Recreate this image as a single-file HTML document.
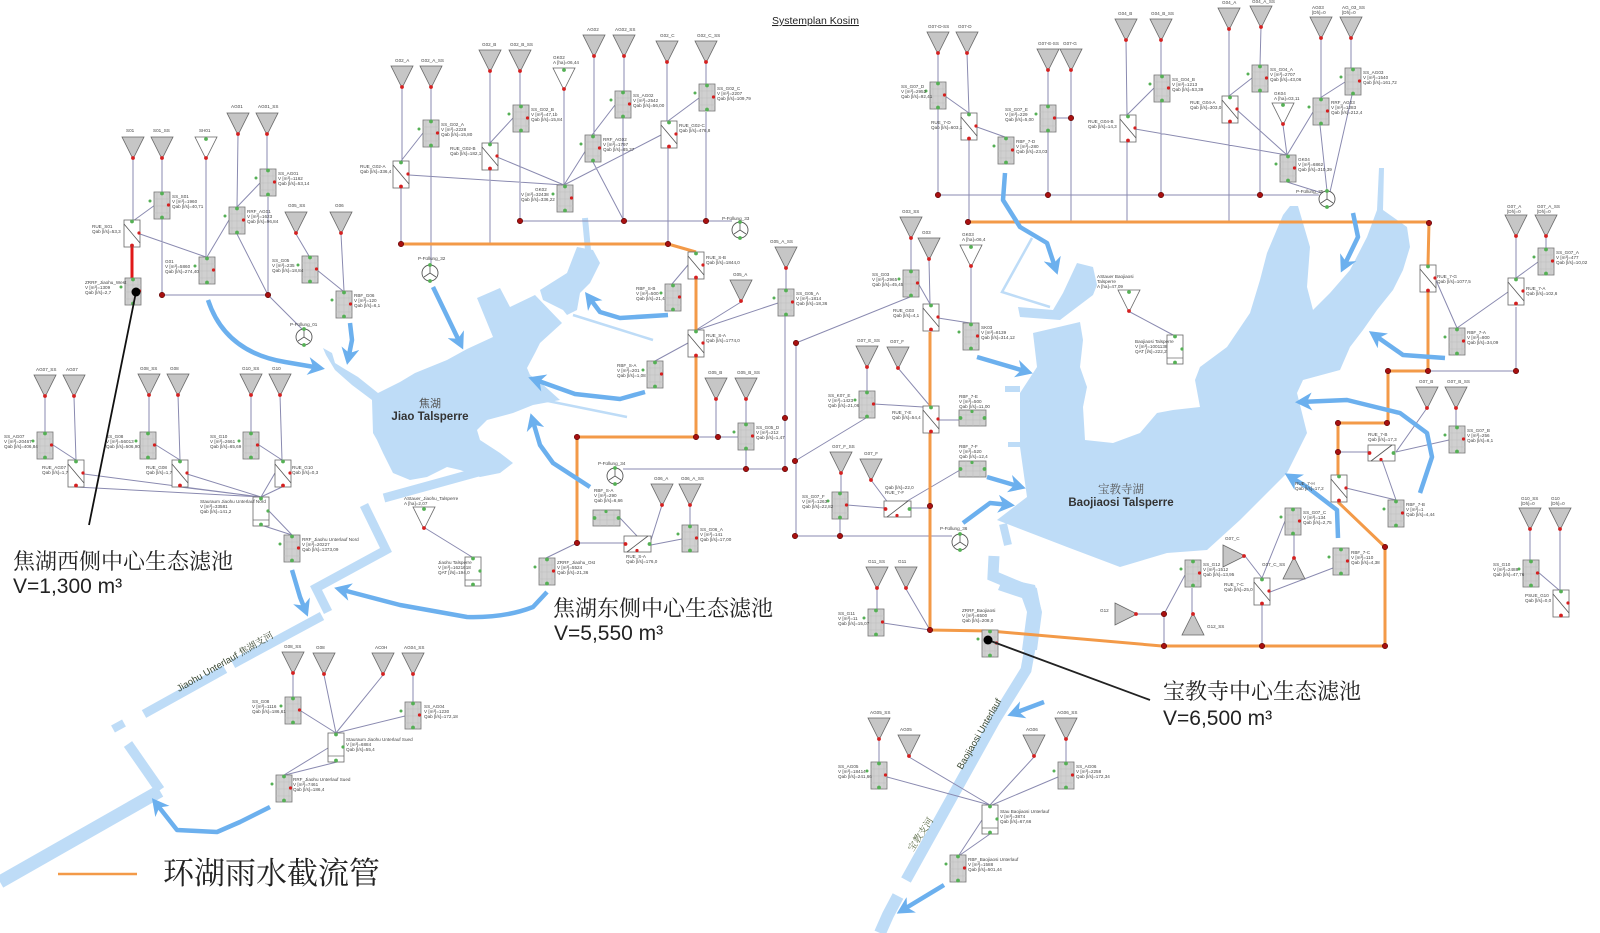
<!DOCTYPE html>
<html><head><meta charset="utf-8"><style>
html,body{margin:0;padding:0;background:#fff;}
svg{display:block;}
.s{font-family:"Liberation Sans",sans-serif;font-size:4.6px;fill:#444;}
.cn{font-family:"Liberation Serif","Noto Serif CJK SC",serif;fill:#222;}
.v{font-family:"Liberation Sans",sans-serif;fill:#222;}
</style></head><body>
<svg width="1600" height="933" viewBox="0 0 1600 933" xmlns="http://www.w3.org/2000/svg">
<defs>
<g id="t"><path d="M0,0H22L11,22Z" fill="#c6c6c6" stroke="#666" stroke-width=".8"/><circle cx="11" cy="21" r="1.9" fill="#d42020"/></g>
<g id="wt"><path d="M0,0H22L11,22Z" fill="#fff" stroke="#666" stroke-width=".8"/><circle cx="11" cy="2" r="1.9" fill="#55b055"/><circle cx="11" cy="21" r="1.9" fill="#d42020"/></g>
<g id="tr"><path d="M0,0L22,11L0,22Z" fill="#c6c6c6" stroke="#666" stroke-width=".8"/><circle cx="21" cy="11" r="1.9" fill="#d42020"/></g>
<g id="tu"><path d="M0,22H22L11,0Z" fill="#c6c6c6" stroke="#666" stroke-width=".8"/><circle cx="11" cy="1" r="1.9" fill="#d42020"/></g>
<g id="b"><rect width="16" height="27" fill="#d0d0d0" stroke="#777" stroke-width=".8"/><path d="M3,0V27M8,0V27M13,0V27M0,7H16M0,14H16M0,21H16" stroke="#bdbdbd" stroke-width=".5"/><circle cx="8" cy="1.5" r="1.9" fill="#55b055"/><circle cx="8" cy="25.5" r="1.9" fill="#55b055"/><circle cx="14.5" cy="13" r="1.6" fill="#d42020"/><circle cx="-4" cy="9" r="1.5" fill="#55b055"/></g>
<g id="r"><rect width="16" height="27" fill="#fff" stroke="#666" stroke-width=".8"/><path d="M0,4L16,23" stroke="#555" stroke-width=".8"/><circle cx="8" cy="1.5" r="1.9" fill="#55b055"/><circle cx="8" cy="25.5" r="1.9" fill="#d42020"/><circle cx="15" cy="13" r="1.6" fill="#d42020"/></g>
<g id="hb"><rect width="27" height="16" fill="#d0d0d0" stroke="#777" stroke-width=".8"/><path d="M0,5H27M0,10H27M7,0V16M14,0V16M21,0V16" stroke="#bdbdbd" stroke-width=".5"/><circle cx="1.5" cy="8" r="1.9" fill="#55b055"/><circle cx="25.5" cy="8" r="1.9" fill="#55b055"/><circle cx="13" cy="1.5" r="1.6" fill="#55b055"/></g>
<g id="hr"><rect width="27" height="16" fill="#fff" stroke="#666" stroke-width=".8"/><path d="M3,16L24,0" stroke="#555" stroke-width=".8"/><circle cx="1.5" cy="8" r="1.9" fill="#d42020"/><circle cx="25.5" cy="8" r="1.9" fill="#55b055"/><circle cx="13" cy="14.5" r="1.6" fill="#d42020"/></g>
<g id="wb"><rect width="16" height="29" fill="#fff" stroke="#666" stroke-width=".8"/><path d="M0,23H16" stroke="#666" stroke-width=".7"/><circle cx="8" cy="1.5" r="1.9" fill="#55b055"/><circle cx="8" cy="27.5" r="1.9" fill="#55b055"/><circle cx="15" cy="14" r="1.6" fill="#55b055"/></g>
<g id="p"><circle r="8" fill="#fff" stroke="#555" stroke-width=".9"/><path d="M0,0V-7M0,0L6,4M0,0L-6,4" stroke="#555" stroke-width=".8"/><circle cy="-8" r="1.9" fill="#55b055"/><circle cy="8" r="1.9" fill="#55b055"/></g>
<g id="n"><circle r="2.7" fill="#a81010" stroke="#500" stroke-width=".6"/></g>
<marker id="ah" markerUnits="userSpaceOnUse" markerWidth="20" markerHeight="18" refX="12" refY="9" orient="auto"><path d="M0,0L17,9L0,18L5,9Z" fill="#6cb0ee"/></marker>
</defs>

<!-- ===== water bodies ===== -->
<g fill="#bedcf7" stroke="none">
<path d="M323,348L332,353L335,363L343,368L358,377L378,393L400,382L415,373L447,360L467,349L493,337L477,298L500,288L510,307L535,295L562,323L540,343L535,353L527,368L530,375L540,382L560,400L533,405L513,413L487,420L477,430L480,440L500,453L513,463L500,473L480,477L460,470L447,467L427,477L410,480L393,473L383,453L377,440L373,433L372,400L352,385L335,370L326,355Z"/>
<path d="M577,247L593,250L600,263L590,283L580,293L577,310L567,315L563,310L543,300L540,290L567,273Z"/>
<path d="M1033,333L1080,322L1083,340L1080,367L1087,387L1083,407L1085,440L1113,443L1140,433L1157,413L1173,410L1200,407L1195,380L1200,367L1227,347L1250,313L1260,280L1267,253L1283,215L1290,206L1298,206L1310,247L1307,287L1313,310L1330,293L1350,270L1367,237L1377,210L1379,168L1384,168L1383,210L1407,227L1410,247L1403,270L1393,290L1377,310L1363,330L1350,347L1340,370L1303,380L1297,393L1307,433L1287,473L1240,520L1207,550L1167,553L1120,567L1067,547L997,520L1027,497L1020,447L1020,393L1037,367Z"/>
<path d="M1053,310L1063,293L1077,263L1093,267L1097,285L1093,295L1060,320L1020,317L1018,307Z"/>
<path d="M1003,578L1035,585L1042,612L1037,650L1022,650L1027,612L1022,598L998,590Z"/>
<rect x="1005" y="386" width="15" height="6"/><rect x="1008" y="442" width="16" height="5"/>
</g>
<g fill="none" stroke="#bedcf7" stroke-linecap="butt">
<path d="M585,218L588,250" stroke-width="6"/>
<path d="M573,315L653,340" stroke-width="2.5"/>
<path d="M533,398L627,417" stroke-width="2.5"/>
<path d="M1032,238L1002,292L1050,307" stroke-width="2.5"/>
<path d="M500,466L384,498" stroke-width="9"/>
<path d="M364,505L386,550L316,588L328,612" stroke-width="9"/>
<path d="M322,616L233,664" stroke-width="9"/>
<path d="M225,669L144,714" stroke-width="9"/>
<path d="M113,729L124,723" stroke-width="8"/>
<path d="M128,744L160,790" stroke-width="10"/>
<path d="M160,791L0,882" stroke-width="13"/>
<path d="M1003,524L1008,545" stroke-width="8"/>
<path d="M994,556L993,576L1012,584L1032,592L1036,612L1030,648L1026,670L995,720L906,880" stroke-width="11"/>
<path d="M898,896L888,915L880,933" stroke-width="12"/>
</g>

<!-- ===== gray connectors ===== -->
<path fill="none" stroke="#8a8ab0" stroke-width="1" d="
M133,159V220 M162,159V192 M206,158V257 M238,135L237,207 M267,135V169 M268,197V295 M162,218V295 M162,295H268 M155,205L133,221 M140,234L206,257 M229,220L207,257 M260,183L237,207 M237,234L268,295 M268,295L302,329 M296,234L309,256 M317,270L343,291 M341,234L344,291
M402,88V161 M401,188V244 M431,88V120 M431,147V265 M423,133L401,161 M409,175L564,185 M490,72V143 M490,170V244 M520,72V105 M520,132V221 M513,118L490,143 M497,157L564,185 M564,89V185 M594,57V135 M624,57V91 M623,118V221 M615,105L592,135 M586,150L564,185 M593,162L624,221 M661,135L564,185 M667,63V121 M668,148V244 M706,63V84 M706,112V221 M699,98L668,121 M520,221H732
M688,265L672,284 M688,343L655,361 M741,302L696,330 M778,303L697,330 M786,268V289 M785,316V470 M716,400V437 M746,400V423 M746,450V469 M696,437H738 M623,469H785 M662,505L651,540 M690,505V525 M682,539L651,545 M620,518L637,536 M577,543H624 M577,543L546,558
M910,297L796,343 M796,343V536 M866,418L795,461
M911,238V270 M918,283L930,304 M929,260L930,304 M938,318L970,323 M971,267V323 M867,368V391 M898,368L930,406 M874,404L923,407 M938,420H959 M841,474V492 M871,480L889,504 M847,505L884,508 M911,508H930 M897,507L960,470 M840,519V536 M795,536H952 M877,589V609 M906,589L930,630 M883,623L930,630
M938,53V82 M938,109V195 M967,53L969,113 M969,140V222 M945,96L969,113 M977,127L1005,137 M1048,70V105 M1048,132V195 M1071,70V222 M1055,118H1071 M1126,41L1127,115 M1127,142V222 M1161,41V75 M1161,102V195 M1154,88L1127,115 M1135,129L1287,155 M1229,29V96 M1229,123V222 M1261,27L1260,65 M1260,92V195 M1252,78L1229,96 M1237,110L1287,155 M1283,125L1287,155 M1313,112L1287,155 M1321,38V98 M1320,125L1327,191 M1351,38V68 M1345,82L1320,98 M1352,95L1330,192 M1287,182L1322,193 M938,195H1319
M1516,237V278 M1546,237V248 M1538,262L1516,278 M1508,292L1457,328 M1435,278L1457,328 M1516,307V371 M1428,371H1516 M1427,408L1396,452 M1456,408V426 M1449,440L1396,452 M1368,452H1338 M1382,460L1396,500 M1346,488L1396,500 M1530,530V560 M1560,530V590 M1538,572L1559,590
M1137,614H1164 M1164,614L1185,575 M1192,588V613 M1164,614V646 M1245,556L1262,578 M1285,521L1262,578 M1294,557V535 M1270,592L1333,568 M1262,605V646
M293,673V697 M324,675L336,733 M383,675L336,733 M413,675V702 M301,711L336,733 M405,716L336,733 M328,748L284,775 M337,762L285,775
M45,397V432 M74,397L76,460 M149,395V432 M178,395L180,460 M251,395V432 M280,395L282,460 M53,445L76,460 M156,445L180,460 M259,445L282,460 M84,474L261,497 M76,487L261,497 M187,474L261,497 M180,487L261,497 M275,473L261,497 M282,487L261,497 M269,511L292,535 M261,525L292,535
M425,528L472,557 M1130,312L1175,336
M879,740V762 M909,757L990,805 M1034,757L990,805 M1066,740V762 M887,777L990,805 M1058,777L992,805 M982,820L959,855 M990,834L960,855
"/>

<!-- ===== orange interceptor pipe ===== -->
<path fill="none" stroke="#f39a48" stroke-width="3" stroke-linejoin="round" d="
M401,244H668L696,252 M696,279V437 M577,437H696 M577,437V543
M968,222H1429L1428,265 M1428,292V371 M1388,371H1428 M1388,371V423 M1338,423H1387 M1338,423V475 M1338,502L1385,547V646 M1385,646H1162L990,631L930,630 M930,332V630"/>
<path d="M132,247V279" stroke="#e01818" stroke-width="3"/>

<!-- ===== blue arrows ===== -->
<g fill="none" stroke="#6cb0ee" stroke-width="4.5" stroke-linejoin="round" marker-end="url(#ah)">
<path d="M208,300Q225,352 285,362L320,368"/>
<path d="M350,323L352,340L348,360"/>
<path d="M433,287L448,318L461,345"/>
<path d="M668,315L620,318L600,312L588,296"/>
<path d="M645,392L620,399L575,394L533,379"/>
<path d="M590,487L553,463L540,445L532,418"/>
<path d="M547,592L533,607Q505,618 467,617L400,605L339,589"/>
<path d="M292,570L300,597L306,612"/>
<path d="M270,807L240,822L217,832L177,830L155,802"/>
<path d="M1005,173L1003,200L1020,227L1047,243L1056,270"/>
<path d="M1353,213L1358,237L1343,268"/>
<path d="M1445,358L1403,355L1373,334"/>
<path d="M1420,493L1432,457L1427,433L1400,413L1347,400L1300,402"/>
<path d="M1338,538L1337,510L1307,487L1289,476"/>
<path d="M977,357L1028,372"/>
<path d="M987,477L1021,487"/>
<path d="M963,523L990,503L1010,505"/>
<path d="M1044,702L1012,714"/>
<path d="M944,885L901,911"/>
</g>

<!-- ===== elements ===== -->
<g>
<use href="#t" x="122" y="137"/><use href="#t" x="151" y="137"/><use href="#t" x="227" y="113"/><use href="#t" x="256" y="113"/><use href="#t" x="285" y="212"/><use href="#t" x="330" y="212"/>
<use href="#t" x="391" y="66"/><use href="#t" x="420" y="66"/><use href="#t" x="479" y="50"/><use href="#t" x="509" y="50"/><use href="#t" x="583" y="35"/><use href="#t" x="613" y="35"/><use href="#t" x="656" y="41"/><use href="#t" x="695" y="41"/>
<use href="#t" x="730" y="280"/><use href="#t" x="705" y="378"/><use href="#t" x="735" y="378"/><use href="#t" x="651" y="484"/><use href="#t" x="679" y="484"/><use href="#t" x="775" y="247"/>
<use href="#t" x="900" y="217"/><use href="#t" x="918" y="238"/><use href="#t" x="856" y="346"/><use href="#t" x="887" y="347"/><use href="#t" x="830" y="452"/><use href="#t" x="860" y="459"/><use href="#t" x="866" y="567"/><use href="#t" x="895" y="567"/>
<use href="#t" x="927" y="32"/><use href="#t" x="956" y="32"/><use href="#t" x="1037" y="49"/><use href="#t" x="1060" y="49"/><use href="#t" x="1115" y="19"/><use href="#t" x="1150" y="19"/><use href="#t" x="1218" y="8"/><use href="#t" x="1250" y="6"/><use href="#t" x="1310" y="17"/><use href="#t" x="1340" y="17"/>
<use href="#t" x="1505" y="215"/><use href="#t" x="1535" y="215"/><use href="#t" x="1416" y="387"/><use href="#t" x="1445" y="387"/><use href="#t" x="1519" y="508"/><use href="#t" x="1549" y="508"/>
<use href="#t" x="282" y="652"/><use href="#t" x="313" y="653"/><use href="#t" x="372" y="653"/><use href="#t" x="402" y="653"/>
<use href="#t" x="34" y="375"/><use href="#t" x="63" y="375"/><use href="#t" x="138" y="374"/><use href="#t" x="167" y="374"/><use href="#t" x="240" y="374"/><use href="#t" x="269" y="374"/>
<use href="#t" x="868" y="718"/><use href="#t" x="898" y="735"/><use href="#t" x="1023" y="735"/><use href="#t" x="1055" y="718"/>
<use href="#wt" x="195" y="137"/><use href="#wt" x="553" y="68"/><use href="#wt" x="960" y="245"/><use href="#wt" x="1272" y="103"/><use href="#wt" x="413" y="507"/><use href="#wt" x="1118" y="290"/>
<use href="#tr" x="1115" y="603"/><use href="#tr" x="1223" y="545"/><use href="#tu" x="1182" y="613"/><use href="#tu" x="1283" y="557"/>

<use href="#b" x="154" y="192"/><use href="#b" x="229" y="207"/><use href="#b" x="260" y="169"/><use href="#b" x="199" y="257"/><use href="#b" x="302" y="256"/><use href="#b" x="336" y="291"/><use href="#b" x="125" y="278"/>
<use href="#b" x="423" y="120"/><use href="#b" x="513" y="105"/><use href="#b" x="615" y="91"/><use href="#b" x="585" y="135"/><use href="#b" x="699" y="84"/><use href="#b" x="557" y="185"/>
<use href="#b" x="665" y="284"/><use href="#b" x="647" y="361"/><use href="#b" x="778" y="289"/><use href="#b" x="738" y="423"/><use href="#b" x="682" y="525"/><use href="#b" x="539" y="558"/>
<use href="#b" x="903" y="270"/><use href="#b" x="963" y="323"/><use href="#b" x="859" y="391"/><use href="#b" x="832" y="492"/><use href="#b" x="868" y="609"/>
<use href="#b" x="930" y="82"/><use href="#b" x="1040" y="105"/><use href="#b" x="998" y="137"/><use href="#b" x="1154" y="75"/><use href="#b" x="1252" y="65"/><use href="#b" x="1313" y="98"/><use href="#b" x="1345" y="68"/><use href="#b" x="1280" y="155"/>
<use href="#b" x="1538" y="248"/><use href="#b" x="1449" y="328"/><use href="#b" x="1449" y="426"/><use href="#b" x="1388" y="500"/><use href="#b" x="1523" y="560"/>
<use href="#b" x="1185" y="560"/><use href="#b" x="1285" y="508"/><use href="#b" x="1333" y="548"/>
<use href="#b" x="285" y="697"/><use href="#b" x="405" y="702"/><use href="#b" x="276" y="775"/>
<use href="#b" x="37" y="432"/><use href="#b" x="140" y="432"/><use href="#b" x="243" y="432"/><use href="#b" x="284" y="535"/>
<use href="#b" x="871" y="762"/><use href="#b" x="1058" y="762"/><use href="#b" x="950" y="855"/><use href="#b" x="982" y="630"/>

<use href="#r" x="124" y="220"/><use href="#r" x="393" y="161"/><use href="#r" x="482" y="143"/><use href="#r" x="661" y="121"/><use href="#r" x="688" y="252"/><use href="#r" x="688" y="330"/>
<use href="#r" x="923" y="304"/><use href="#r" x="923" y="406"/><use href="#r" x="961" y="113"/><use href="#r" x="1120" y="115"/><use href="#r" x="1222" y="96"/>
<use href="#r" x="1508" y="278"/><use href="#r" x="1420" y="265"/><use href="#r" x="1331" y="475"/><use href="#r" x="1553" y="590"/><use href="#r" x="1254" y="578"/>
<use href="#r" x="68" y="460"/><use href="#r" x="172" y="460"/><use href="#r" x="275" y="460"/>
<use href="#hb" x="593" y="510"/><use href="#hb" x="959" y="410"/><use href="#hb" x="959" y="461"/>
<use href="#hr" x="624" y="536"/><use href="#hr" x="884" y="501"/><use href="#hr" x="1368" y="445"/>
<use href="#wb" x="328" y="733"/><use href="#wb" x="253" y="497"/><use href="#wb" x="982" y="805"/><use href="#wb" x="465" y="557"/><use href="#wb" x="1167" y="335"/>
<use href="#p" x="304" y="337"/><use href="#p" x="430" y="273"/><use href="#p" x="740" y="230"/><use href="#p" x="615" y="476"/><use href="#p" x="1327" y="199"/><use href="#p" x="960" y="542"/>

<use href="#n" x="162" y="295"/><use href="#n" x="268" y="295"/><use href="#n" x="520" y="221"/><use href="#n" x="624" y="221"/><use href="#n" x="706" y="221"/><use href="#n" x="401" y="244"/><use href="#n" x="668" y="244"/>
<use href="#n" x="696" y="437"/><use href="#n" x="718" y="437"/><use href="#n" x="577" y="437"/><use href="#n" x="577" y="543"/><use href="#n" x="746" y="469"/><use href="#n" x="785" y="469"/><use href="#n" x="785" y="418"/>
<use href="#n" x="796" y="343"/><use href="#n" x="795" y="461"/><use href="#n" x="795" y="536"/><use href="#n" x="840" y="536"/><use href="#n" x="930" y="506"/><use href="#n" x="930" y="630"/>
<use href="#n" x="938" y="195"/><use href="#n" x="1048" y="195"/><use href="#n" x="1161" y="195"/><use href="#n" x="1260" y="195"/><use href="#n" x="968" y="222"/><use href="#n" x="1429" y="223"/>
<use href="#n" x="1428" y="371"/><use href="#n" x="1388" y="371"/><use href="#n" x="1516" y="371"/><use href="#n" x="1387" y="423"/><use href="#n" x="1338" y="423"/><use href="#n" x="1338" y="452"/>
<use href="#n" x="1385" y="547"/><use href="#n" x="1385" y="646"/><use href="#n" x="1262" y="646"/><use href="#n" x="1164" y="646"/><use href="#n" x="1164" y="614"/><use href="#n" x="1071" y="118"/>
</g>

<!-- ===== small labels ===== -->
<g class="s">
<text x="126" y="132">S01</text><text x="153" y="132">S01_SS</text><text x="199" y="132">SH01</text><text x="231" y="108">AG01</text><text x="258" y="108">AG01_SS</text><text x="288" y="207">G05_SS</text><text x="335" y="207">G06</text>
<text x="172" y="198">SS_S01<tspan x="172" dy="5">V [m³]=1960</tspan><tspan x="172" dy="5">Qab [l/s]=40,71</tspan></text>
<text x="247" y="213">RRF_AG01<tspan x="247" dy="5">V [m³]=1623</tspan><tspan x="247" dy="5">Qab [l/s]=96,84</tspan></text>
<text x="278" y="175">SS_AG01<tspan x="278" dy="5">V [m³]=1162</tspan><tspan x="278" dy="5">Qab [l/s]=53,14</tspan></text>
<text x="165" y="263">G01<tspan x="165" dy="5">V [m³]=5860</tspan><tspan x="165" dy="5">Qab [l/s]=274,40</tspan></text>
<text x="272" y="262">SS_G05<tspan x="272" dy="5">V [m³]=235</tspan><tspan x="272" dy="5">Qab [l/s]=18,84</tspan></text>
<text x="354" y="297">RBF_G06<tspan x="354" dy="5">V [m³]=120</tspan><tspan x="354" dy="5">Qab [l/s]=6,1</tspan></text>
<text x="92" y="228">RUE_S01<tspan x="92" dy="5">Qab [l/s]=53,3</tspan></text>
<text x="85" y="284">ZRRF_Jiaohu_West<tspan x="85" dy="5">V [m³]=1309</tspan><tspan x="85" dy="5">Qab [l/s]=2,7</tspan></text>
<text x="290" y="326">P-Füllung_01</text>
<text x="395" y="62">G02_A</text><text x="421" y="62">G02_A_SS</text><text x="482" y="46">G02_B</text><text x="510" y="46">G02_B_SS</text><text x="553" y="59">GK02<tspan x="553" dy="5">A [ha]=06,44</tspan></text><text x="587" y="31">AG02</text><text x="615" y="31">AG02_SS</text><text x="660" y="37">G02_C</text><text x="697" y="37">G02_C_SS</text>
<text x="441" y="126">SS_G02_A<tspan x="441" dy="5">V [m³]=2228</tspan><tspan x="441" dy="5">Qab [l/s]=15,80</tspan></text>
<text x="531" y="111">SS_G02_B<tspan x="531" dy="5">V [m³]=47,1b</tspan><tspan x="531" dy="5">Qab [l/s]=15,84</tspan></text>
<text x="633" y="97">SS_AG02<tspan x="633" dy="5">V [m³]=2542</tspan><tspan x="633" dy="5">Qab [l/s]=56,00</tspan></text>
<text x="603" y="141">RRF_AG02<tspan x="603" dy="5">V [m³]=1797</tspan><tspan x="603" dy="5">Qab [l/s]=85,37</tspan></text>
<text x="717" y="90">SS_G02_C<tspan x="717" dy="5">V [m³]=2207</tspan><tspan x="717" dy="5">Qab [l/s]=109,79</tspan></text>
<text x="535" y="191">GK02<tspan x="521" dy="5">V [m³]=32438</tspan><tspan x="521" dy="5">Qab [l/s]=336,22</tspan></text>
<text x="360" y="168">RUE_G02-A<tspan x="360" dy="5">Qab [l/s]=336,4</tspan></text>
<text x="450" y="150">RUE_G02-B<tspan x="450" dy="5">Qab [l/s]=182,1</tspan></text>
<text x="679" y="127">RUE_G02-C<tspan x="679" dy="5">Qab [l/s]=476,8</tspan></text>
<text x="706" y="259">RUE_S-B<tspan x="706" dy="5">Qab [l/s]=1844,0</tspan></text>
<text x="706" y="337">RUE_S-A<tspan x="706" dy="5">Qab [l/s]=1774,0</tspan></text>
<text x="636" y="290">RBF_S-B<tspan x="636" dy="5">V [m³]=500</tspan><tspan x="636" dy="5">Qab [l/s]=21,4</tspan></text>
<text x="617" y="367">RBF_S-A<tspan x="617" dy="5">V [m³]=201</tspan><tspan x="617" dy="5">Qab [l/s]=1,08</tspan></text>
<text x="722" y="220">P-Füllung_33</text><text x="418" y="260">P-Füllung_32</text><text x="598" y="465">P-Füllung_34</text>
<text x="733" y="276">G05_A</text><text x="708" y="374">G05_B</text><text x="737" y="374">G05_B_SS</text><text x="654" y="480">G06_A</text><text x="681" y="480">G06_A_SS</text><text x="770" y="243">G05_A_SS</text>
<text x="756" y="429">SS_G05_D<tspan x="756" dy="5">V [m³]=212</tspan><tspan x="756" dy="5">Qab [l/s]=1,47</tspan></text>
<text x="796" y="295">SS_G05_A<tspan x="796" dy="5">V [m³]=1814</tspan><tspan x="796" dy="5">Qab [l/s]=18,36</tspan></text>
<text x="700" y="531">SS_G06_A<tspan x="700" dy="5">V [m³]=141</tspan><tspan x="700" dy="5">Qab [l/s]=17,00</tspan></text>
<text x="594" y="492">RBF_S-A<tspan x="594" dy="5">V [m³]=290</tspan><tspan x="594" dy="5">Qab [l/s]=6,66</tspan></text>
<text x="626" y="558">RUE_S-A<tspan x="626" dy="5">Qab [l/s]=176,0</tspan></text>
<text x="557" y="564">ZRRF_Jiaohu_Ost<tspan x="557" dy="5">V [m³]=5524</tspan><tspan x="557" dy="5">Qab [l/s]=21,36</tspan></text>
<text x="902" y="213">G03_SS</text><text x="922" y="234">G03</text><text x="962" y="236">GK03<tspan x="962" dy="5">A [ha]=06,4</tspan></text>
<text x="872" y="276">SS_G03<tspan x="872" dy="5">V [m³]=2965</tspan><tspan x="872" dy="5">Qab [l/s]=45,45</tspan></text>
<text x="893" y="312">RUE_G03<tspan x="893" dy="5">Qab [l/s]=4,1</tspan></text>
<text x="981" y="329">SK03<tspan x="981" dy="5">V [m³]=8139</tspan><tspan x="981" dy="5">Qab [l/s]=314,12</tspan></text>
<text x="857" y="342">G07_E_SS</text><text x="890" y="343">G07_F</text><text x="832" y="448">G07_F_SS</text><text x="864" y="455">G07_F</text><text x="868" y="563">G11_SS</text><text x="898" y="563">G11</text>
<text x="828" y="397">SS_K07_E<tspan x="828" dy="5">V [m³]=1423</tspan><tspan x="828" dy="5">Qab [l/s]=21,06</tspan></text>
<text x="892" y="414">RUE_7-E<tspan x="892" dy="5">Qab [l/s]=54,4</tspan></text>
<text x="959" y="398">RBF_7-E<tspan x="959" dy="5">V [m³]=500</tspan><tspan x="959" dy="5">Qab [l/s]=11,00</tspan></text>
<text x="959" y="448">RBF_7-F<tspan x="959" dy="5">V [m³]=520</tspan><tspan x="959" dy="5">Qab [l/s]=12,4</tspan></text>
<text x="802" y="498">SS_G07_F<tspan x="802" dy="5">V [m³]=1263</tspan><tspan x="802" dy="5">Qab [l/s]=22,82</tspan></text>
<text x="885" y="494">RUE_7-F<tspan x="885" dy="-5">Qab [l/s]=22,0</tspan></text>
<text x="940" y="530">P-Füllung_36</text>
<text x="838" y="615">SS_G11<tspan x="838" dy="5">V [m³]=11</tspan><tspan x="838" dy="5">Qab [l/s]=15,07</tspan></text>
<text x="962" y="612">ZRRF_Baojiaosi<tspan x="962" dy="5">V [m³]=6500</tspan><tspan x="962" dy="5">Qab [l/s]=208,0</tspan></text>
<text x="928" y="28">G07-D-SS</text><text x="958" y="28">G07-D</text><text x="1038" y="45">G07-E-SS</text><text x="1063" y="45">G07-G</text><text x="1118" y="15">G04_B</text><text x="1151" y="15">G04_B_SS</text><text x="1222" y="4">G04_A</text><text x="1252" y="3">G04_A_SS</text><text x="1312" y="9">AG03<tspan x="1312" dy="5">[Dh]=0</tspan></text><text x="1342" y="9">AG_03_SS<tspan x="1342" dy="5">[Dh]=0</tspan></text><text x="1274" y="95">GK04<tspan x="1274" dy="5">A [ha]=03,11</tspan></text>
<text x="901" y="88">SS_G07_D<tspan x="901" dy="5">V [m³]=2952</tspan><tspan x="901" dy="5">Qab [l/s]=92,41</tspan></text>
<text x="931" y="124">RUE_7-D<tspan x="931" dy="5">Qab [l/s]=603,1</tspan></text>
<text x="1016" y="143">RBF_7-D<tspan x="1016" dy="5">V [m³]=280</tspan><tspan x="1016" dy="5">Qab [l/s]=23,03</tspan></text>
<text x="1005" y="111">SS_G07_E<tspan x="1005" dy="5">V [m³]=229</tspan><tspan x="1005" dy="5">Qab [l/s]=5,00</tspan></text>
<text x="1172" y="81">SS_G04_B<tspan x="1172" dy="5">V [m³]=1213</tspan><tspan x="1172" dy="5">Qab [l/s]=53,39</tspan></text>
<text x="1088" y="123">RUE_G04-B<tspan x="1088" dy="5">Qab [l/s]=14,3</tspan></text>
<text x="1270" y="71">SS_G04_A<tspan x="1270" dy="5">V [m³]=2707</tspan><tspan x="1270" dy="5">Qab [l/s]=43,06</tspan></text>
<text x="1190" y="104">RUE_G04-A<tspan x="1190" dy="5">Qab [l/s]=303,0</tspan></text>
<text x="1331" y="104">RRF_AG03<tspan x="1331" dy="5">V [m³]=1283</tspan><tspan x="1331" dy="5">Qab [l/s]=212,4</tspan></text>
<text x="1363" y="74">SS_AG03<tspan x="1363" dy="5">V [m³]=1540</tspan><tspan x="1363" dy="5">Qab [l/s]=161,72</tspan></text>
<text x="1298" y="161">GK04<tspan x="1298" dy="5">V [m³]=6862</tspan><tspan x="1298" dy="5">Qab [l/s]=310,39</tspan></text>
<text x="1296" y="193">P-Füllung_35</text>
<text x="1507" y="208">G07_A<tspan x="1507" dy="5">[Dh]=0</tspan></text><text x="1537" y="208">G07_A_SS<tspan x="1537" dy="5">[Dh]=0</tspan></text><text x="1419" y="383">G07_B</text><text x="1447" y="383">G07_B_SS</text><text x="1521" y="500">G10_SS<tspan x="1521" dy="5">[Dh]=0</tspan></text><text x="1551" y="500">G10<tspan x="1551" dy="5">[Dh]=0</tspan></text>
<text x="1556" y="254">SS_G07_A<tspan x="1556" dy="5">V [m³]=477</tspan><tspan x="1556" dy="5">Qab [l/s]=10,02</tspan></text>
<text x="1526" y="290">RUE_7-A<tspan x="1526" dy="5">Qab [l/s]=102,6</tspan></text>
<text x="1437" y="278">RUE_7-G<tspan x="1437" dy="5">Qab [l/s]=1077,5</tspan></text>
<text x="1467" y="334">RBF_7-A<tspan x="1467" dy="5">V [m³]=800</tspan><tspan x="1467" dy="5">Qab [l/s]=34,09</tspan></text>
<text x="1467" y="432">SS_G07_B<tspan x="1467" dy="5">V [m³]=256</tspan><tspan x="1467" dy="5">Qab [l/s]=6,1</tspan></text>
<text x="1368" y="436">RUE_7-B<tspan x="1368" dy="5">Qab [l/s]=17,3</tspan></text>
<text x="1406" y="506">RBF_7-B<tspan x="1406" dy="5">V [m³]=1</tspan><tspan x="1406" dy="5">Qab [l/s]=4,44</tspan></text>
<text x="1295" y="485">RUE_7-H<tspan x="1295" dy="5">Qab [l/s]=17,2</tspan></text>
<text x="1493" y="566">SS_G10<tspan x="1493" dy="5">V [m³]=2488</tspan><tspan x="1493" dy="5">Qab [l/s]=47,76</tspan></text>
<text x="1525" y="597">PSUE_G10<tspan x="1525" dy="5">Qab [l/s]=0,0</tspan></text>
<text x="1100" y="612">G12</text><text x="1207" y="628">G12_SS</text><text x="1225" y="540">G07_C</text><text x="1262" y="566">G07_C_SS</text>
<text x="1203" y="566">SS_G12<tspan x="1203" dy="5">V [m³]=1512</tspan><tspan x="1203" dy="5">Qab [l/s]=13,95</tspan></text>
<text x="1303" y="514">SS_G07_C<tspan x="1303" dy="5">V [m³]=134</tspan><tspan x="1303" dy="5">Qab [l/s]=2,75</tspan></text>
<text x="1224" y="586">RUE_7-C<tspan x="1224" dy="5">Qab [l/s]=25,0</tspan></text>
<text x="1351" y="554">RBF_7-C<tspan x="1351" dy="5">V [m³]=110</tspan><tspan x="1351" dy="5">Qab [l/s]=4,38</tspan></text>
<text x="1097" y="278">AStauer Baojiaosi<tspan x="1097" dy="5">Talsperre</tspan><tspan x="1097" dy="5">A [ha]=47,09</tspan></text>
<text x="1135" y="343">Baojiaosi Talsperre<tspan x="1135" dy="5">V [m³]=1001138</tspan><tspan x="1135" dy="5">QAT [l/s]=222,2</tspan></text>
<text x="404" y="500">AStauer_Jiaohu_Talsperre<tspan x="404" dy="5">A [ha]=2,07</tspan></text>
<text x="438" y="564">Jiaohu Talsperre<tspan x="438" dy="5">V [m³]=1621618</tspan><tspan x="438" dy="5">QAT [l/s]=194,0</tspan></text>
<text x="36" y="371">AG07_SS</text><text x="66" y="371">AG07</text><text x="140" y="370">G08_SS</text><text x="170" y="370">G08</text><text x="242" y="370">G10_SS</text><text x="272" y="370">G10</text>
<text x="4" y="438">SS_AG07<tspan x="4" dy="5">V [m³]=20467</tspan><tspan x="4" dy="5">Qab [l/s]=406,84</tspan></text>
<text x="106" y="438">SS_G08<tspan x="106" dy="5">V [m³]=56013</tspan><tspan x="106" dy="5">Qab [l/s]=506,90</tspan></text>
<text x="210" y="438">SS_G10<tspan x="210" dy="5">V [m³]=2661</tspan><tspan x="210" dy="5">Qab [l/s]=65,69</tspan></text>
<text x="42" y="469">RUE_AG07<tspan x="42" dy="5">Qab [l/s]=1,7</tspan></text>
<text x="146" y="469">RUE_G08<tspan x="146" dy="5">Qab [l/s]=1,7</tspan></text>
<text x="292" y="469">RUE_G10<tspan x="292" dy="5">Qab [l/s]=0,3</tspan></text>
<text x="200" y="503">Stauraum Jiaohu Unterlauf Nord<tspan x="200" dy="5">V [m³]=33581</tspan><tspan x="200" dy="5">Qab [l/s]=141,2</tspan></text>
<text x="302" y="541">RRF_Jiaohu Unterlauf Nord<tspan x="302" dy="5">V [m³]=20227</tspan><tspan x="302" dy="5">Qab [l/s]=1373,09</tspan></text>
<text x="284" y="648">G08_SS</text><text x="316" y="649">G08</text><text x="375" y="649">AC0H</text><text x="404" y="649">AG04_SS</text>
<text x="252" y="703">SS_G08<tspan x="252" dy="5">V [m³]=1116</tspan><tspan x="252" dy="5">Qab [l/s]=186,61</tspan></text>
<text x="424" y="708">SS_AG04<tspan x="424" dy="5">V [m³]=1230</tspan><tspan x="424" dy="5">Qab [l/s]=172,18</tspan></text>
<text x="346" y="741">Stauraum Jiaohu Unterlauf Sued<tspan x="346" dy="5">V [m³]=6884</tspan><tspan x="346" dy="5">Qab [l/s]=55,4</tspan></text>
<text x="293" y="781">RRF_Jiaohu Unterlauf Sued<tspan x="293" dy="5">V [m³]=7461</tspan><tspan x="293" dy="5">Qab [l/s]=186,4</tspan></text>
<text x="870" y="714">AG05_SS</text><text x="900" y="731">AG05</text><text x="1026" y="731">AG06</text><text x="1057" y="714">AG06_SS</text>
<text x="838" y="768">SS_AG05<tspan x="838" dy="5">V [m³]=18414</tspan><tspan x="838" dy="5">Qab [l/s]=241,66</tspan></text>
<text x="1076" y="768">SS_AG06<tspan x="1076" dy="5">V [m³]=2258</tspan><tspan x="1076" dy="5">Qab [l/s]=172,34</tspan></text>
<text x="1000" y="813">Stau Baojiaosi Unterlauf<tspan x="1000" dy="5">V [m³]=3874</tspan><tspan x="1000" dy="5">Qab [l/s]=67,66</tspan></text>
<text x="968" y="861">RBF_Baojiaosi Unterlauf<tspan x="968" dy="5">V [m³]=1588</tspan><tspan x="968" dy="5">Qab [l/s]=501,44</tspan></text>
</g>

<!-- ===== leader lines ===== -->
<path d="M136,292L89,525" stroke="#111" stroke-width="1.8"/><circle cx="136" cy="292" r="4.5" fill="#000"/>
<path d="M988,640L1150,700" stroke="#222" stroke-width="1.8"/><circle cx="988" cy="640" r="4.5" fill="#000"/>

<!-- ===== titles / lake names ===== -->
<text x="772" y="24" font-family="Liberation Sans,sans-serif" font-size="10.5" fill="#222" text-decoration="underline">Systemplan Kosim</text>
<text x="430" y="407" text-anchor="middle" font-family="Liberation Sans,'Noto Sans CJK SC',sans-serif" font-size="11" fill="#555">焦湖</text>
<text x="430" y="420" text-anchor="middle" font-family="Liberation Sans,sans-serif" font-size="11.5" font-weight="bold" fill="#333">Jiao Talsperre</text>
<text x="1121" y="493" text-anchor="middle" font-family="Liberation Serif,'Noto Serif CJK SC',serif" font-size="11.5" fill="#555">宝教寺湖</text>
<text x="1121" y="506" text-anchor="middle" font-family="Liberation Sans,sans-serif" font-size="11.5" font-weight="bold" fill="#333">Baojiaosi Talsperre</text>
<text transform="translate(179,692) rotate(-30)" font-family="Liberation Sans,'Noto Serif CJK SC',sans-serif" font-size="9.5" fill="#3d4a35">Jiaohu Unterlauf 焦湖支河</text>
<text transform="translate(962,770) rotate(-60)" font-family="Liberation Sans,sans-serif" font-size="9.5" fill="#3d4a35">Baojiaosi Unterlauf</text>
<text transform="translate(913,852) rotate(-57)" font-family="Liberation Serif,'Noto Serif CJK SC',serif" font-size="9.5" fill="#5a6a45">宝教支河</text>

<!-- ===== big annotations ===== -->
<text class="cn" x="13" y="569" font-size="22">焦湖西侧中心生态滤池</text>
<text class="v" x="13" y="593" font-size="21">V=1,300 m³</text>
<text class="cn" x="553" y="616" font-size="22">焦湖东侧中心生态滤池</text>
<text class="v" x="554" y="640" font-size="21">V=5,550 m³</text>
<text class="cn" x="1163" y="699" font-size="22">宝教寺中心生态滤池</text>
<text class="v" x="1163" y="725" font-size="21">V=6,500 m³</text>
<path d="M58,874H137" stroke="#f39a48" stroke-width="2.5"/>
<text class="cn" x="163" y="884" font-size="31">环湖雨水截流管</text>
</svg>
</body></html>
